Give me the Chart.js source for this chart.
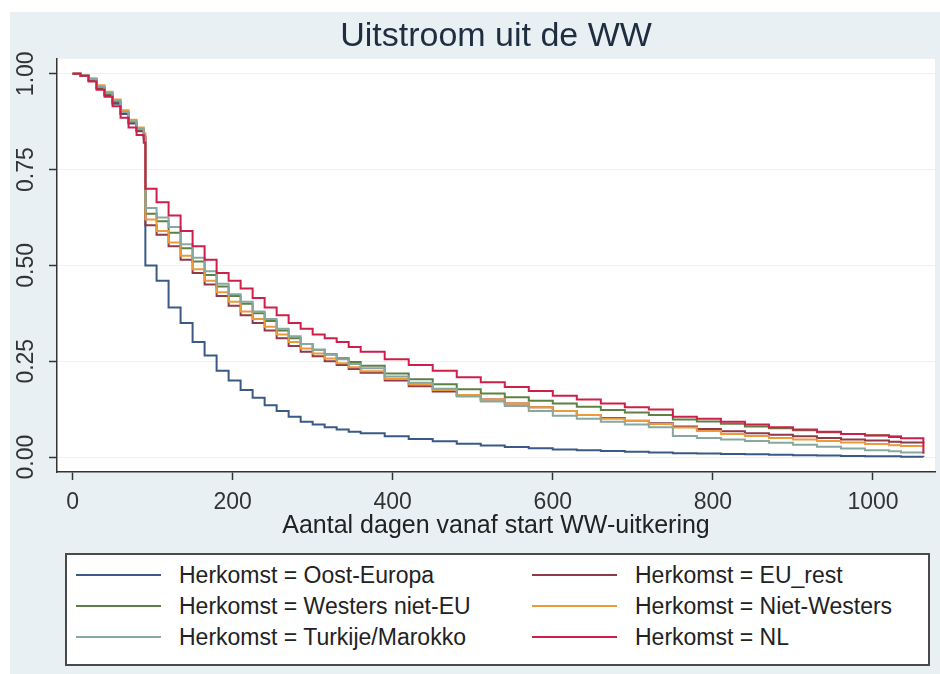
<!DOCTYPE html>
<html>
<head>
<meta charset="utf-8">
<script src="https://cdn.jsdelivr.net/npm/chart.js@4.4.1/dist/chart.umd.min.js"></script>
<style>
  body { margin: 0; background: #fff; }
  #wrap { position: relative; width: 940px; height: 674px; }
  #legend {
    position: absolute; left: 65px; top: 553px; width: 861px; height: 109px;
    border: 2px solid #4a4a4a; background: #fff;
    font-family: "Liberation Sans", Arial, sans-serif; font-size: 23px; color: #222;
  }
  .item { position: absolute; display: flex; align-items: center; height: 30px; white-space: nowrap; }
  .item .line { display: inline-block; width: 85px; height: 2px; margin-right: 18px; }
</style>
</head>
<body>
<div id="wrap">
  <canvas id="kmChart" width="940" height="674"></canvas>
  <div id="legend"></div>
</div>
<script>
// dagen sinds start WW-uitkering (stapmomenten)
const days = [0, 10, 20, 30, 40, 50, 60, 70, 80, 89, 91,
  105, 120, 135, 150, 165, 180, 195, 210, 225, 240, 255, 270, 285, 300, 315, 330, 345, 360,
  390, 420, 450, 480, 510, 540, 570, 600, 630, 660, 690, 720, 750, 780, 810, 840, 870, 900,
  930, 960, 990, 1020, 1035, 1063];

// overlevingskansen per herkomstgroep
const oostEuropa = [1.0, .995, .983, .962, .944, .922, .895, .87, .85, .83, .50,
  .46, .39, .35, .30, .265, .225, .20, .175, .155, .135, .12, .105, .092, .085, .078, .072, .066, .062,
  .054, .047, .041, .035, .03, .026, .023, .02, .018, .016, .014, .012, .01, .009, .008, .007, .006, .005,
  .004, .003, .002, .002, .001, 0.0];
const euRest = [1.0, .995, .984, .963, .945, .925, .897, .872, .852, .835, .605,
  .58, .55, .515, .48, .45, .42, .395, .37, .35, .33, .31, .29, .275, .263, .25, .24, .23, .22,
  .2, .185, .171, .16, .15, .14, .13, .12, .11, .102, .095, .088, .08, .073, .067, .062, .058, .054,
  .05, .046, .043, .04, .038, .035];
const westersNietEU = [1.0, .996, .985, .965, .948, .928, .9, .875, .855, .835, .635,
  .615, .585, .545, .51, .475, .445, .42, .40, .375, .355, .33, .31, .295, .28, .268, .258, .248, .238,
  .218, .203, .19, .177, .166, .156, .147, .14, .131, .123, .116, .11, .098, .093, .087, .08, .075, .07,
  .065, .06, .057, .054, .053, null];
const nietWesters = [1.0, .997, .988, .97, .953, .933, .905, .88, .86, .845, .62,
  .59, .56, .525, .49, .46, .43, .405, .38, .36, .34, .32, .30, .283, .27, .257, .245, .234, .224,
  .204, .19, .175, .162, .15, .14, .13, .12, .11, .1, .094, .086, .077, .068, .06, .055, .05, .046,
  .042, .038, .034, .031, .029, .026];
const turkijeMarokko = [1.0, .996, .986, .966, .95, .93, .9, .876, .856, .838, .65,
  .625, .60, .555, .52, .485, .452, .425, .405, .38, .36, .335, .315, .295, .28, .267, .255, .243, .232,
  .21, .194, .178, .158, .145, .133, .12, .108, .1, .092, .085, .078, .055, .05, .046, .042, .037, .032,
  .027, .022, .018, .015, .012, .008];
const nl = [1.0, .995, .98, .958, .94, .915, .885, .86, .84, .82, .70,
  .665, .63, .59, .55, .515, .48, .46, .44, .415, .39, .37, .35, .335, .32, .31, .30, .287, .275,
  .255, .24, .225, .208, .195, .183, .172, .16, .15, .14, .13, .124, .105, .1, .092, .085, .078, .072,
  .066, .06, .056, .052, .049, .01];

const seriesNames = ["Herkomst = Oost-Europa", "Herkomst = EU_rest",
  "Herkomst = Westers niet-EU", "Herkomst = Niet-Westers",
  "Herkomst = Turkije/Marokko", "Herkomst = NL"];
const seriesValues = [oostEuropa, euRest, westersNietEU, nietWesters, turkijeMarokko, nl];
const seriesColors = ["#3a5a85", "#8e3a48", "#5d8045", "#eb9a3c", "#86a8a0", "#cd1f4a"];

const xTicks = [0, 200, 400, 600, 800, 1000];
const yTicks = [0, 0.25, 0.5, 0.75, 1];

const FONT = "'Liberation Sans', Arial, sans-serif";

// achtergrond van grafiek- en plotgebied
const backgrounds = {
  id: "backgrounds",
  beforeDraw(chart) {
    const { ctx, chartArea: a } = chart;
    ctx.save();
    ctx.fillStyle = "#ffffff";
    ctx.fillRect(0, 0, chart.width, chart.height);
    ctx.fillStyle = "#e9f0f3";
    ctx.fillRect(10, 12, chart.width - 10, chart.height - 12);
    ctx.fillStyle = "#ffffff";
    ctx.fillRect(a.left, a.top, a.right - a.left, a.bottom - a.top);
    ctx.restore();
  },
};

function noPad(s) {
  s.paddingTop = 0; s.paddingBottom = 0; s.paddingLeft = 0; s.paddingRight = 0;
}

const datasets = seriesNames.map((name, i) => ({
  label: name,
  data: days.map((d, j) => ({ x: d, y: seriesValues[i][j] })).filter((p) => p.y !== null),
  borderColor: seriesColors[i],
  backgroundColor: seriesColors[i],
  borderWidth: 2,
  pointRadius: 0,
  stepped: true,
  fill: false,
  order: seriesNames.length - i,
}));

new Chart(document.getElementById("kmChart"), {
  type: "line",
  data: { datasets: datasets },
  plugins: [backgrounds],
  options: {
    responsive: false,
    animation: false,
    layout: { padding: { left: 10, right: 5, top: 0, bottom: 133 }, autoPadding: false },
    plugins: {
      legend: { display: false },
      tooltip: { enabled: false },
      title: {
        display: true,
        text: "Uitstroom uit de WW",
        fullSize: false,
        color: "#1f2d40",
        font: { family: FONT, size: 34, weight: "normal" },
        padding: { top: 16, bottom: 2 },
      },
    },
    scales: {
      x: {
        type: "linear",
        min: -19.4,
        max: 1077.5,
        afterBuildTicks: (s) => { s.ticks = xTicks.map((v) => ({ value: v })); },
        afterFit: (s) => { s.height = 69; noPad(s); },
        ticks: {
          color: "#333", font: { family: FONT, size: 23 }, padding: 9, maxRotation: 0,
          callback: (v) => String(v),
        },
        grid: { drawOnChartArea: false, tickColor: "#333", tickLength: 8, tickWidth: 1.5 },
        border: { color: "#333", width: 1.5 },
        title: {
          display: true,
          text: "Aantal dagen vanaf start WW-uitkering",
          color: "#222",
          font: { family: FONT, size: 25 },
          padding: { top: 0, bottom: 0 },
        },
      },
      y: {
        min: -0.039,
        max: 1.039,
        afterBuildTicks: (s) => { s.ticks = yTicks.map((v) => ({ value: v })); },
        afterFit: (s) => { s.width = 47; noPad(s); },
        ticks: {
          color: "#333",
          font: { family: FONT, size: 23 },
          minRotation: 90,
          maxRotation: 90,
          crossAlign: "center",
          padding: 0,
          callback: (v) => v.toFixed(2),
        },
        grid: { color: "#eef2f4", lineWidth: 1, tickColor: "#333", tickLength: 8, tickWidth: 1.5 },
        border: { color: "#333", width: 1.5 },
      },
    },
  },
});

// legenda in twee kolommen, rijsgewijs gevuld
const legend = document.getElementById("legend");
seriesNames.forEach((name, i) => {
  const item = document.createElement("div");
  item.className = "item";
  item.style.left = (i % 2 === 0 ? 9 : 465) + "px";
  item.style.top = (5 + Math.floor(i / 2) * 31) + "px";
  item.innerHTML = `<span class="line" style="background:${seriesColors[i]}"></span>${name}`;
  legend.appendChild(item);
});
</script>
</body>
</html>
